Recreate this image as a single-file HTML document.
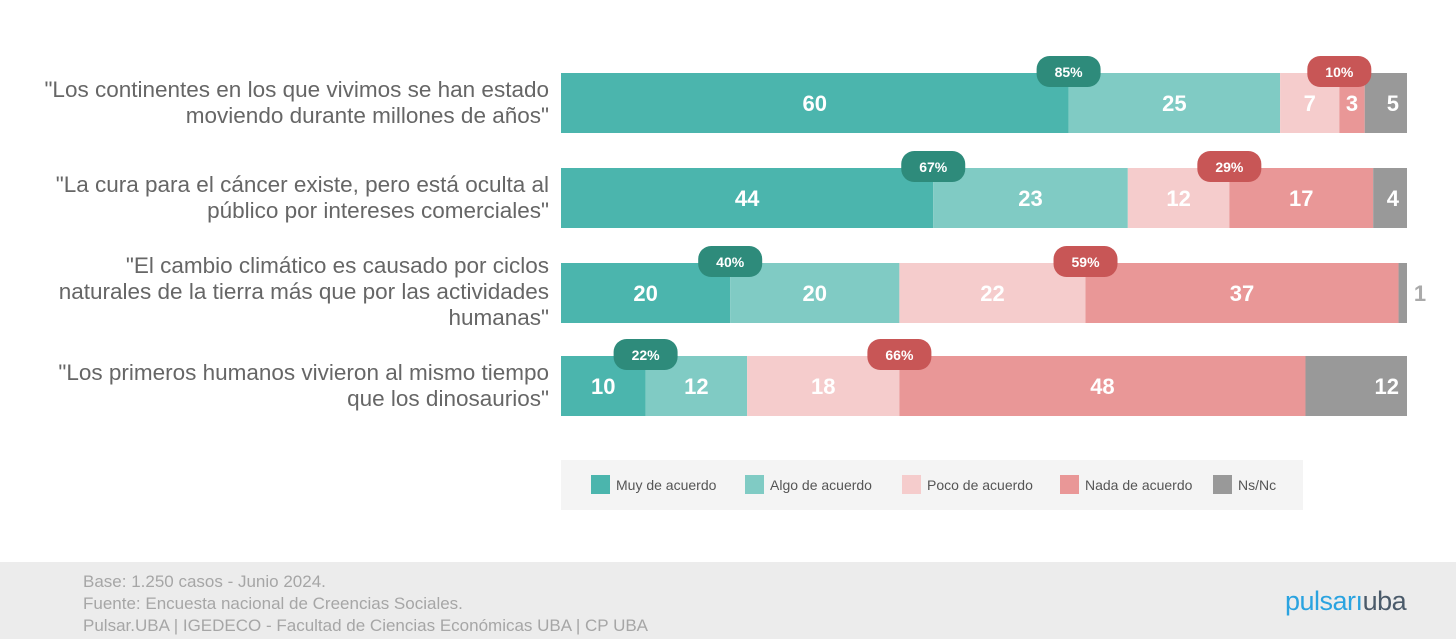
<!DOCTYPE html>
<html><head><meta charset="utf-8"><style>
body{margin:0;width:1456px;height:639px;background:#fff;font-family:"Liberation Sans",sans-serif;overflow:hidden;position:relative}
.lbl{position:absolute;right:907px;text-align:right;color:#666;font-size:22.5px;line-height:26px}
.footer{position:absolute;left:0;top:562px;width:1456px;height:77px;background:#ececec}
.ft{position:absolute;left:83px;top:9px;color:#a6a6a6;font-size:17px;line-height:22px}
</style></head><body>
<div class="lbl" style="top:77px">"Los continentes en los que vivimos se han estado<br>moviendo durante millones de años"</div>
<div class="lbl" style="top:172px">"La cura para el cáncer existe, pero está oculta al<br>público por intereses comerciales"</div>
<div class="lbl" style="top:253px">"El cambio climático es causado por ciclos<br>naturales de la tierra más que por las actividades<br>humanas"</div>
<div class="lbl" style="top:360px">"Los primeros humanos vivieron al mismo tiempo<br>que los dinosaurios"</div>
<svg id="chart" width="1456" height="560" style="position:absolute;left:0;top:0"></svg>
<div class="footer">
<div class="ft">Base: 1.250 casos - Junio 2024.<br>Fuente: Encuesta nacional de Creencias Sociales.<br>Pulsar.UBA | IGEDECO - Facultad de Ciencias Económicas UBA | CP UBA</div>
<div style="position:absolute;left:1285px;top:24px;font-size:27px;letter-spacing:-0.5px"><span style="color:#2aa3e0">pulsar</span><span style="color:#2aa3e0">ı</span><span style="color:#4a5a6a">uba</span></div>
</div>
<script>
const categories=["r1","r2","r3","r4"];
const muy=[60,44,20,10];
const algo=[25,23,20,12];
const poco=[7,12,22,18];
const nada=[3,17,37,48];
const nsnc=[5,4,1,12];
const agreeTot=[85,67,40,22];
const disTot=[10,29,59,66];
const seriesNames=["Muy de acuerdo","Algo de acuerdo","Poco de acuerdo","Nada de acuerdo","Ns/Nc"];
const colors=["#4bb5ad","#80cbc4","#f5cccc","#e99797","#999999"];
const NS="http://www.w3.org/2000/svg";
const svg=document.getElementById('chart');
const x0=561,x1=1407;
const xs=v=>x0+(x1-x0)*v/100;
const rowY=[73,168,263,356],barH=60;
function el(t,a){const e=document.createElementNS(NS,t);for(const k in a)e.setAttribute(k,a[k]);svg.appendChild(e);return e;}
const series=[muy,algo,poco,nada,nsnc];
categories.forEach((c,i)=>{
  let acc=0;const y=rowY[i];
  series.forEach((s,j)=>{
    const v=s[i];
    const r=el('rect',{x:xs(acc),y:y,width:xs(acc+v)-xs(acc),height:barH,fill:colors[j]});
    
    
    let cx=v<3?xs(100)+13:(xs(acc)+xs(acc+v))/2;
    let anchor='middle';
    if(j===4&&v>=3){cx=xs(100)-8;anchor='end';}
    const t=el('text',{x:cx,y:y+barH/2+8,'text-anchor':anchor,'font-size':22,'font-weight':'bold',fill:v<3?'#aaa':'#fff'});
    t.textContent=v;
    
    
    acc+=v;
  });
  const badges=[[xs(muy[i]),agreeTot[i],'#2e8b7b'],[xs(muy[i]+algo[i]+poco[i]),disTot[i],'#c85656']];
  badges.forEach(([bx,val,col])=>{
    const b=el('rect',{x:bx-32,y:y-17,width:64,height:31,rx:13,fill:col});
    
    
    const t=el('text',{x:bx,y:y+4,'text-anchor':'middle','font-size':14,'font-weight':'bold',fill:'#fff'});
    t.textContent=val+'%';
    
    
  });
});
const lg=el('rect',{x:561,y:460,width:742,height:50,fill:'#f4f4f4'});


const lx=[591,745,902,1060,1213];
seriesNames.forEach((n,j)=>{
  const r=el('rect',{x:lx[j],y:475,width:19,height:19,fill:colors[j]});
  
  
  const t=el('text',{x:lx[j]+25,y:490,'font-size':14,fill:'#555'});
  t.textContent=n;
  
  
});
</script>
</body></html>
